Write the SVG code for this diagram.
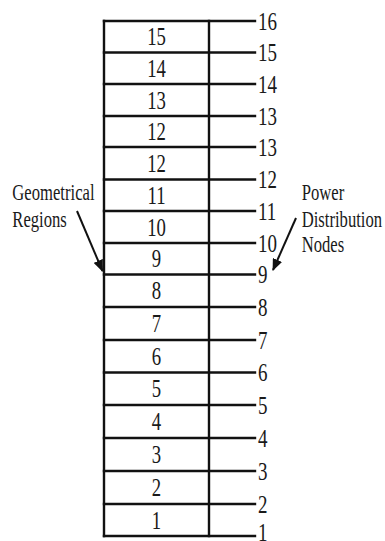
<svg xmlns="http://www.w3.org/2000/svg" width="385" height="541" viewBox="0 0 385 541">
<style>
.ln{stroke:#111;stroke-width:2.4;fill:none;stroke-linecap:square}
.t{font-family:"Liberation Serif","Times New Roman",serif;font-size:25px;fill:#1a1a1a}
.c{text-anchor:middle}
.a{font-family:"Liberation Serif","Times New Roman",serif;font-size:22.5px;fill:#1a1a1a}
.ar{stroke:#111;stroke-width:2;fill:none}
</style>
<defs>
<marker id="ah" markerUnits="userSpaceOnUse" markerWidth="12" markerHeight="10" refX="11" refY="5" orient="auto">
<path d="M0,0 L12,5 L0,10 Z" fill="#111"/>
</marker>
</defs>
<rect width="385" height="541" fill="#fff"/>
<g id="frame">
<line class="ln" x1="104" y1="21" x2="104" y2="536"/>
<line class="ln" x1="209" y1="21" x2="209" y2="536"/>
</g>
<g id="regions">
<g id="region-15"><text class="t c" transform="translate(156.5,45.2) scale(0.75,1)">15</text></g>
<g id="region-14"><text class="t c" transform="translate(156.5,76.7) scale(0.75,1)">14</text></g>
<g id="region-13"><text class="t c" transform="translate(156.5,108.5) scale(0.75,1)">13</text></g>
<g id="region-12a"><text class="t c" transform="translate(156.5,140) scale(0.75,1)">12</text></g>
<g id="region-12b"><text class="t c" transform="translate(156.5,171.7) scale(0.75,1)">12</text></g>
<g id="region-11"><text class="t c" transform="translate(156.5,203.7) scale(0.75,1)">11</text></g>
<g id="region-10"><text class="t c" transform="translate(156.5,235.5) scale(0.75,1)">10</text></g>
<g id="region-9"><text class="t c" transform="translate(156.5,267.2) scale(0.75,1)">9</text></g>
<g id="region-8"><text class="t c" transform="translate(156.5,299.2) scale(0.75,1)">8</text></g>
<g id="region-7"><text class="t c" transform="translate(156.5,332) scale(0.75,1)">7</text></g>
<g id="region-6"><text class="t c" transform="translate(156.5,364.7) scale(0.75,1)">6</text></g>
<g id="region-5"><text class="t c" transform="translate(156.5,397.2) scale(0.75,1)">5</text></g>
<g id="region-4"><text class="t c" transform="translate(156.5,430) scale(0.75,1)">4</text></g>
<g id="region-3"><text class="t c" transform="translate(156.5,463) scale(0.75,1)">3</text></g>
<g id="region-2"><text class="t c" transform="translate(156.5,496) scale(0.75,1)">2</text></g>
<g id="region-1"><text class="t c" transform="translate(156.5,528.5) scale(0.75,1)">1</text></g>
</g>
<g id="nodes">
<g id="node-16"><line class="ln" x1="104" y1="21" x2="255" y2="21"/><text class="t" transform="translate(258,29.5) scale(0.76,1)">16</text></g>
<g id="node-15"><line class="ln" x1="104" y1="52.5" x2="255" y2="52.5"/><text class="t" transform="translate(258,61) scale(0.76,1)">15</text></g>
<g id="node-14"><line class="ln" x1="104" y1="84" x2="255" y2="84"/><text class="t" transform="translate(258,92.5) scale(0.76,1)">14</text></g>
<g id="node-13a"><line class="ln" x1="104" y1="116" x2="255" y2="116"/><text class="t" transform="translate(258,124.5) scale(0.76,1)">13</text></g>
<g id="node-13b"><line class="ln" x1="104" y1="147" x2="255" y2="147"/><text class="t" transform="translate(258,155.5) scale(0.76,1)">13</text></g>
<g id="node-12"><line class="ln" x1="104" y1="179.5" x2="255" y2="179.5"/><text class="t" transform="translate(258,188) scale(0.76,1)">12</text></g>
<g id="node-11"><line class="ln" x1="104" y1="211" x2="255" y2="211"/><text class="t" transform="translate(258,219.5) scale(0.76,1)">11</text></g>
<g id="node-10"><line class="ln" x1="104" y1="243" x2="255" y2="243"/><text class="t" transform="translate(258,251.5) scale(0.76,1)">10</text></g>
<g id="node-9"><line class="ln" x1="104" y1="274.5" x2="255" y2="274.5"/><text class="t" transform="translate(258,283) scale(0.76,1)">9</text></g>
<g id="node-8"><line class="ln" x1="104" y1="307" x2="255" y2="307"/><text class="t" transform="translate(258,315.5) scale(0.76,1)">8</text></g>
<g id="node-7"><line class="ln" x1="104" y1="340" x2="255" y2="340"/><text class="t" transform="translate(258,348.5) scale(0.76,1)">7</text></g>
<g id="node-6"><line class="ln" x1="104" y1="372.5" x2="255" y2="372.5"/><text class="t" transform="translate(258,381) scale(0.76,1)">6</text></g>
<g id="node-5"><line class="ln" x1="104" y1="405" x2="255" y2="405"/><text class="t" transform="translate(258,413.5) scale(0.76,1)">5</text></g>
<g id="node-4"><line class="ln" x1="104" y1="438" x2="255" y2="438"/><text class="t" transform="translate(258,446.5) scale(0.76,1)">4</text></g>
<g id="node-3"><line class="ln" x1="104" y1="471" x2="255" y2="471"/><text class="t" transform="translate(258,479.5) scale(0.76,1)">3</text></g>
<g id="node-2"><line class="ln" x1="104" y1="504" x2="255" y2="504"/><text class="t" transform="translate(258,512.5) scale(0.76,1)">2</text></g>
<g id="node-1"><line class="ln" x1="104" y1="536" x2="255" y2="536"/><text class="t" transform="translate(258,540.5) scale(0.76,1)">1</text></g>
</g>
<g id="label-regions">
<text class="a" transform="translate(12.3,200) scale(0.74,1)">Geometrical</text>
<text class="a" transform="translate(12.3,226.5) scale(0.74,1)">Regions</text>
</g>
<g id="label-nodes">
<text class="a" transform="translate(301.7,200) scale(0.74,1)">Power</text>
<text class="a" transform="translate(301.7,226.5) scale(0.74,1)">Distribution</text>
<text class="a" transform="translate(301.7,251.5) scale(0.74,1)">Nodes</text>
</g>
<g id="connectors">
<line class="ar" x1="77" y1="211" x2="102.5" y2="271" marker-end="url(#ah)"/>
<line class="ar" x1="296" y1="218" x2="273" y2="270" marker-end="url(#ah)"/>
</g>
</svg>
